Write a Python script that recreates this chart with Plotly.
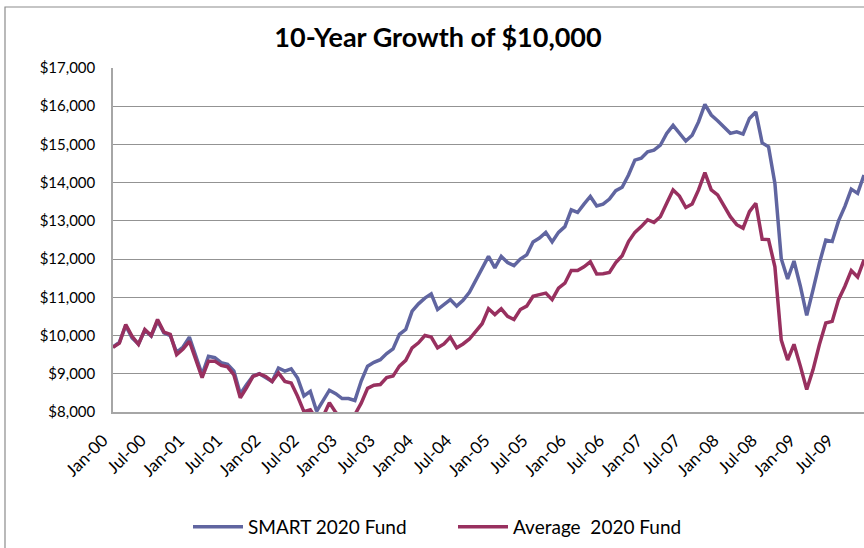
import plotly.graph_objects as go

# ---- data (monthly values, Jan-00 .. Nov-09) ----
month_names = ["Jan", "Feb", "Mar", "Apr", "May", "Jun", "Jul", "Aug", "Sep", "Oct", "Nov", "Dec"]

smart_2020 = [
    9700, 9820, 10260, 9940, 9780, 10140, 9990, 10380, 10070, 10000, 9560, 9700,
    9960, 9450, 8980, 9460, 9420, 9290, 9250, 9070, 8470, 8720, 8940, 9000,
    8890, 8800, 9150, 9070, 9130, 8890, 8420, 8540, 8020, 8300, 8570, 8480,
    8350, 8350, 8300, 8810, 9200, 9300, 9370, 9530, 9650, 10030, 10160, 10640,
    10830, 10980, 11090, 10680, 10810, 10940, 10770, 10920, 11130, 11460, 11770, 12070,
    11770, 12070, 11910, 11830, 12000, 12110, 12450, 12550, 12700, 12450, 12700, 12850,
    13290, 13220, 13440, 13640, 13390, 13440, 13570, 13790, 13880, 14200, 14590, 14640,
    14810, 14850, 14980, 15290, 15500, 15290, 15090, 15240, 15590, 16050, 15770, 15620,
    15460, 15290, 15330, 15270, 15680, 15850, 15040, 14940, 13980, 12010, 11480, 11950,
    11290, 10530, 11200, 11900, 12500, 12460, 13000, 13380, 13830, 13720, 14200,
]

average_2020 = [
    9690, 9800, 10290, 9980, 9770, 10160, 10000, 10420, 10090, 10030, 9500, 9650,
    9850, 9380, 8900, 9330, 9330, 9220, 9180, 8970, 8370, 8640, 8930, 9000,
    8930, 8800, 9020, 8800, 8760, 8410, 8010, 8060, 7800, 7880, 8240, 7990,
    7800, 7820, 7930, 8230, 8620, 8700, 8720, 8900, 8940, 9200, 9350, 9680,
    9810, 10000, 9960, 9680, 9780, 9960, 9680, 9780, 9910, 10110, 10310, 10700,
    10550, 10700, 10500, 10420, 10680, 10770, 11030, 11070, 11110, 10940, 11240, 11370,
    11700, 11700, 11800, 11930, 11610, 11620, 11650, 11910, 12090, 12460, 12700, 12850,
    13030, 12960, 13110, 13460, 13810, 13650, 13350, 13440, 13810, 14260, 13810, 13680,
    13390, 13110, 12900, 12810, 13240, 13460, 12520, 12510, 11800, 9880, 9360, 9770,
    9200, 8590, 9110, 9770, 10330, 10370, 10940, 11290, 11700, 11530, 11980,
]

months = [f"{month_names[k % 12]}-{k // 12:02d}" for k in range(len(smart_2020))]

tick_labels = ["Jan-00", "Jul-00", "Jan-01", "Jul-01", "Jan-02", "Jul-02", "Jan-03",
               "Jul-03", "Jan-04", "Jul-04", "Jan-05", "Jul-05", "Jan-06", "Jul-06",
               "Jan-07", "Jul-07", "Jan-08", "Jul-08", "Jan-09", "Jul-09"]

y_ticks = [8000, 9000, 10000, 11000, 12000, 13000, 14000, 15000, 16000, 17000]

FONT = "Lato, 'Open Sans', sans-serif"

fig = go.Figure()
fig.add_trace(go.Scatter(x=months, y=smart_2020, mode="lines", name="SMART 2020 Fund",
                         line=dict(color="#6065A0", width=3.5)))
fig.add_trace(go.Scatter(x=months, y=average_2020, mode="lines", name="Average  2020 Fund",
                         line=dict(color="#98305F", width=3.5)))

fig.update_layout(
    width=864, height=548,
    margin=dict(l=113, r=0, t=68, b=136, autoexpand=False),
    paper_bgcolor="white", plot_bgcolor="white",
    title=dict(text="<b>10-Year Growth of $10,000</b>", x=438 / 864, xref="container",
               y=1 - 38 / 548, yref="container", xanchor="center", yanchor="middle",
               font=dict(family=FONT, size=27, color="black")),
    font=dict(family=FONT, color="black"),
    showlegend=True,
    legend=dict(orientation="h", x=(188 - 113) / 751, xanchor="left",
                y=-(527 - 412) / 344, yanchor="middle",
                font=dict(family=FONT, size=19, color="black"),
                entrywidth=200, entrywidthmode="pixels", itemwidth=50),
    hovermode=False,
)

fig.update_xaxes(
    type="category", range=[0, len(smart_2020) - 1],
    tickmode="array", tickvals=tick_labels, ticktext=tick_labels,
    tickangle=-45, tickfont=dict(family=FONT, size=17, color="black"),
    ticks="", ticklabelshift=-10, ticklabelstandoff=10,
    showgrid=False, showline=True, linecolor="#A6A6A6", linewidth=1.5,
    zeroline=False,
)
fig.update_yaxes(
    range=[8000, 17000], tickmode="array", tickvals=y_ticks,
    tickformat="$,.0f", tickfont=dict(family=FONT, size=15, color="black"),
    ticks="", ticklabelstandoff=13,
    showgrid=True, gridcolor="#939393", gridwidth=1.3,
    showline=True, linecolor="#A6A6A6", linewidth=1.5, zeroline=False,
)

# outer chart frame
fig.add_shape(type="rect", xref="paper", yref="paper",
              x0=(5 - 113) / 751, x1=1.05, y0=-0.6, y1=(412 - 7) / 344,
              line=dict(color="#8C8C8C", width=1.2), fillcolor="rgba(0,0,0,0)", layer="below")

fig.write_html(
    "out.html",
    config={"displayModeBar": False},
    post_script="document.body.style.margin='0';document.body.style.overflow='hidden';",
)
